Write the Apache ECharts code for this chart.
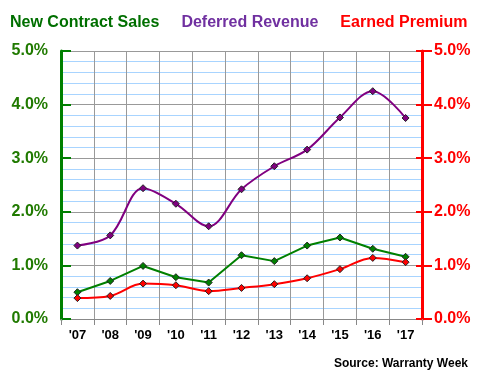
<!DOCTYPE html>
<html><head><meta charset="utf-8">
<script src="https://cdn.jsdelivr.net/npm/echarts@6/dist/echarts.min.js"></script>
<style>html,body{margin:0;padding:0;background:#fff}#c{width:480px;height:380px}</style>
</head><body><div id="c"></div>
<script>
var categories = ["'07","'08","'09","'10","'11","'12","'13","'14","'15","'16","'17"];
var newContractSales = [0.50,0.71,0.99,0.78,0.68,1.19,1.08,1.37,1.52,1.31,1.16];
var deferredRevenue = [1.37,1.56,2.44,2.15,1.73,2.42,2.85,3.16,3.76,4.25,3.75];
var earnedPremium = [0.39,0.43,0.66,0.63,0.52,0.58,0.65,0.76,0.93,1.14,1.06];
var seriesNames = ['New Contract Sales','Deferred Revenue','Earned Premium'];
var axisMin = 0, axisMax = 5, axisStep = 1;

var chart = echarts.init(document.getElementById('c'));
var font = 'Liberation Sans, Arial, sans-serif';
function fmt(v){ return v.toFixed(1) + '%'; }
function mk(name, data, color, smooth, z){
  return {name:name, type:'line', data:data, smooth:smooth ? 0.35 : false, yAxisIndex:0, z:z,
    symbol:'diamond', symbolSize:7, showAllSymbol:true,
    lineStyle:{color:color, width:2},
    itemStyle:{color:color, borderColor:'#222', borderWidth:1}};
}
chart.setOption({
  animation:false,
  textStyle:{fontFamily:font},
  grid:{left:61, right:58, top:51, bottom:61},
  legend:{top:10, left:0, itemWidth:0, itemHeight:0, itemGap:17, icon:'none',
    data:[
      {name:seriesNames[0], textStyle:{color:'#006f00'}},
      {name:seriesNames[1], textStyle:{color:'#7030a0'}},
      {name:seriesNames[2], textStyle:{color:'#ff0000'}}
    ],
    textStyle:{fontFamily:font, fontSize:16, fontWeight:'bold'}
  },
  xAxis:{type:'category', data:categories, boundaryGap:true,
    axisLine:{lineStyle:{color:'#888', width:1}},
    axisTick:{show:true, length:6, lineStyle:{color:'#888'}},
    axisLabel:{color:'#000', fontWeight:'bold', fontSize:13, fontFamily:font, margin:10},
    splitLine:{show:true, lineStyle:{color:'#999', width:1}}
  },
  yAxis:[
    {type:'value', min:axisMin, max:axisMax, interval:axisStep, position:'left',
      axisLine:{show:true, lineStyle:{color:'#008000', width:3}},
      axisTick:{show:true, inside:true, length:10, lineStyle:{color:'#008000', width:2}},
      axisLabel:{color:'#207a00', fontWeight:'bold', fontSize:16, fontFamily:font, formatter:fmt, margin:13},
      splitLine:{show:true, lineStyle:{color:'#999', width:1}},
      minorTick:{show:false, splitNumber:5},
      minorSplitLine:{show:true, lineStyle:{color:'#a8d4ff', width:1}}
    },
    {type:'value', min:axisMin, max:axisMax, interval:axisStep, position:'right',
      axisLine:{show:true, lineStyle:{color:'#ff0000', width:3}},
      axisTick:{show:true, inside:false, length:10, lineStyle:{color:'#ff0000', width:2}},
      axisLabel:{color:'#ff0000', fontWeight:'bold', fontSize:16, fontFamily:font, formatter:fmt, margin:12},
      splitLine:{show:false}
    },
    {type:'value', min:axisMin, max:axisMax, interval:axisStep, position:'right',
      axisLine:{show:false},
      axisTick:{show:true, inside:true, length:6, lineStyle:{color:'#ff0000', width:2}},
      axisLabel:{show:false},
      splitLine:{show:false}
    }
  ],
  series:[
    mk(seriesNames[0], newContractSales, '#008000', false, 3),
    mk(seriesNames[1], deferredRevenue, '#800080', true, 2),
    mk(seriesNames[2], earnedPremium, '#ff0000', true, 4)
  ],
  graphic:[{type:'text', right:12, top:358,
    style:{text:'Source: Warranty Week', font:'bold 12px '+font, fill:'#000'}}]
});
</script></body></html>
